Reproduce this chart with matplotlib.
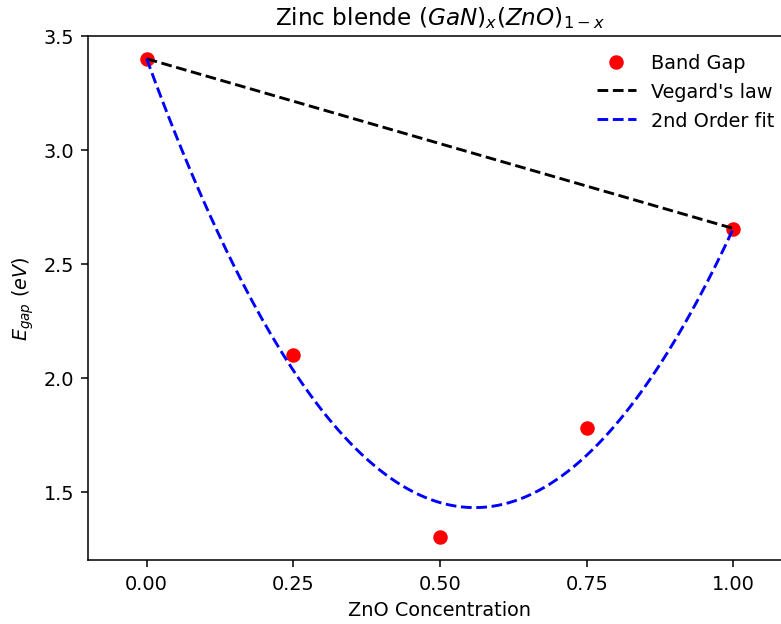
import numpy as np
import matplotlib
matplotlib.use("Agg")
import matplotlib.pyplot as plt

# ZnO concentration and band gaps
zno_conc = [0.0, 0.25, 0.50, 0.75, 1.0]
band_gap = [3.40, 2.10, 1.30, 1.78, 2.655]

# Vegard's law end points
vegard_x = [0.0, 1.0]
vegard_y = [3.40, 2.655]

# 2nd order fit coefficients (highest power first)
fit_coeffs = [6.302, -7.047, 3.40]

DPI = 139
fig = plt.figure(figsize=(781 / DPI, 625 / DPI), dpi=DPI)
ax = fig.add_axes([88 / 781, 64 / 625, 704 / 781, 524 / 625])

fit_x = np.linspace(0.0, 1.0, 200)
ax.plot(zno_conc, band_gap, "o", color="red", markersize=6.5, label="Band Gap")
ax.plot(vegard_x, vegard_y, "--", color="black", linewidth=1.5, label="Vegard's law")
ax.plot(fit_x, np.polyval(fit_coeffs, fit_x), "--", color="blue", linewidth=1.5,
        label="2nd Order fit")

ax.set_xlim(-0.1, 1.1)
ax.set_ylim(1.2, 3.5)
ax.set_xticks([0.0, 0.25, 0.5, 0.75, 1.0])
ax.set_xticklabels(["0.00", "0.25", "0.50", "0.75", "1.00"])
ax.set_yticks([1.5, 2.0, 2.5, 3.0, 3.5])
ax.set_xlabel("ZnO Concentration")
ax.set_ylabel(r"$E_{gap}\ (eV)$")
ax.set_title(r"Zinc blende $(GaN)_x(ZnO)_{1-x}$")
ax.legend(loc="upper right", frameon=False)

fig.savefig("out.png", dpi=DPI)
plt.close(fig)
